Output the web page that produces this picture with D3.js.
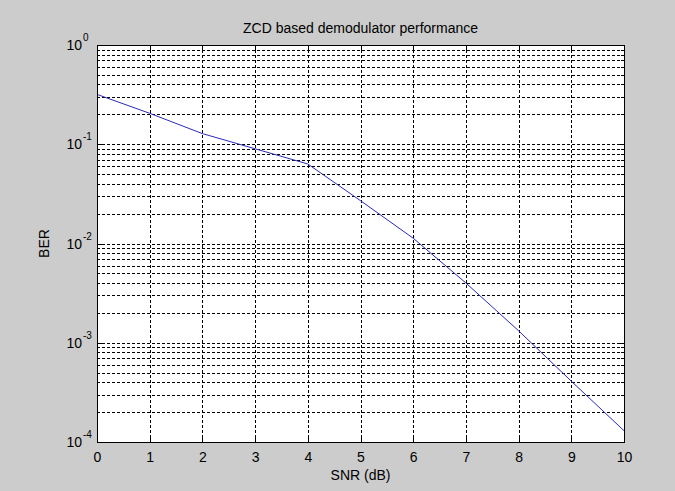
<!DOCTYPE html>
<html><head><meta charset="utf-8">
<script src="https://cdn.jsdelivr.net/npm/d3@7"></script>
<style>
html,body{margin:0;padding:0;background:#cccccc;}
svg{display:block;font-family:"Liberation Sans",Arial,sans-serif;}
</style></head>
<body>
<svg id="chart" width="675" height="491"></svg>
<script>
const snr = [0,1,2,3,4,5,6,7,8,9,10];
const ber = [0.318,0.205,0.128,0.090,0.0633,0.027,0.0113,0.0040,0.00132,0.00041,0.00013];
const xTicks = [0,1,2,3,4,5,6,7,8,9,10];
const yTickExps = [-4,-3,-2,-1,0];
const title = "ZCD based demodulator performance";
const xLabel = "SNR (dB)";
const yLabel = "BER";

const W = 675, H = 491;
const L = 97, R = 624, T = 45, B = 442;
const svg = d3.select("#chart");
svg.append("rect").attr("width",W).attr("height",H).attr("fill","#cccccc");
svg.append("rect").attr("x",L).attr("y",T).attr("width",R-L).attr("height",B-T).attr("fill","#ffffff");

const x = d3.scaleLinear().domain([0,10]).range([L,R]);
const y = d3.scaleLog().domain([1e-4,1]).range([B,T]);

// grid values
const yGrid = [];
yTickExps.slice(0,-1).forEach(e=>{ for(let k=1;k<=9;k++){ const v=k*Math.pow(10,e); if(v>1e-4 && v<1) yGrid.push(v);} });
const yMinor = yGrid.filter(v=>Math.abs(Math.log10(v)-Math.round(Math.log10(v)))>1e-9);
const g = svg.append("g").attr("shape-rendering","crispEdges");
g.selectAll("line.hg").data(yGrid).join("line")
  .attr("x1",L).attr("x2",R).attr("y1",d=>Math.round(y(d))+0.5).attr("y2",d=>Math.round(y(d))+0.5)
  .attr("stroke","#000").attr("stroke-width",1).attr("stroke-dasharray","3,2");
g.selectAll("line.vg").data(xTicks.filter(d=>d>0&&d<10)).join("line")
  .attr("y1",T).attr("y2",B).attr("x1",d=>Math.round(x(d))+0.5).attr("x2",d=>Math.round(x(d))+0.5)
  .attr("stroke","#000").attr("stroke-width",1).attr("stroke-dasharray","3,2");

// data line
const line = d3.line().x((d,i)=>x(snr[i])).y(d=>y(d));
svg.append("path").datum(ber).attr("d",line).attr("fill","none").attr("stroke","#2a2ab8").attr("stroke-width",1);

// axes (inward ticks)
const axB = d3.axisBottom(x).tickValues(xTicks).tickSize(-5).tickPadding(10).tickFormat(d3.format("d"));
const axT = d3.axisTop(x).tickValues(xTicks).tickSize(-5).tickFormat("");
const axL = d3.axisLeft(y).tickValues(yTickExps.map(e=>Math.pow(10,e))).tickSize(-5).tickFormat("");
const axR = d3.axisRight(y).tickValues(yTickExps.map(e=>Math.pow(10,e))).tickSize(-5).tickFormat("");
const axLm = d3.axisLeft(y).tickValues(yMinor).tickSize(-3).tickFormat("");
const axRm = d3.axisRight(y).tickValues(yMinor).tickSize(-3).tickFormat("");
function style(sel){
  sel.select(".domain").attr("stroke","#000");
  sel.selectAll(".tick line").attr("stroke","#000");
  sel.selectAll("text").attr("fill","#000").attr("font-size","14px").attr("font-family","Liberation Sans, Arial, sans-serif");
  sel.attr("shape-rendering","crispEdges");
}
svg.append("g").attr("transform",`translate(0,${B})`).call(axB).call(style);
svg.append("g").attr("transform",`translate(0,${T})`).call(axT).call(style);
svg.append("g").attr("transform",`translate(${L},0)`).call(axL).call(style);
svg.append("g").attr("transform",`translate(${R},0)`).call(axR).call(style);
svg.append("g").attr("transform",`translate(${L},0)`).call(axLm).call(style).select(".domain").remove();
svg.append("g").attr("transform",`translate(${R},0)`).call(axRm).call(style).select(".domain").remove();

// y tick labels with superscripts
const yl = svg.append("g").attr("font-family","Liberation Sans, Arial, sans-serif").attr("fill","#000");
yTickExps.forEach(e=>{
  const yy = y(Math.pow(10,e));
  const t = yl.append("text").attr("x",82).attr("y",yy+5).attr("text-anchor","end").attr("font-size","14px").text("10");
  yl.append("text").attr("x",83).attr("y",yy-4).attr("text-anchor","start").attr("font-size","10px").text(e===0?"0":String(e));
});

svg.append("text").attr("x",(L+R)/2).attr("y",33).attr("text-anchor","middle").attr("font-size","14px").attr("fill","#000").text(title);
svg.append("text").attr("x",(L+R)/2).attr("y",480).attr("text-anchor","middle").attr("font-size","14px").attr("fill","#000").text(xLabel);
svg.append("text").attr("transform",`translate(49,${(T+B)/2}) rotate(-90)`).attr("text-anchor","middle").attr("font-size","14px").attr("fill","#000").text(yLabel);
</script>
</body></html>
